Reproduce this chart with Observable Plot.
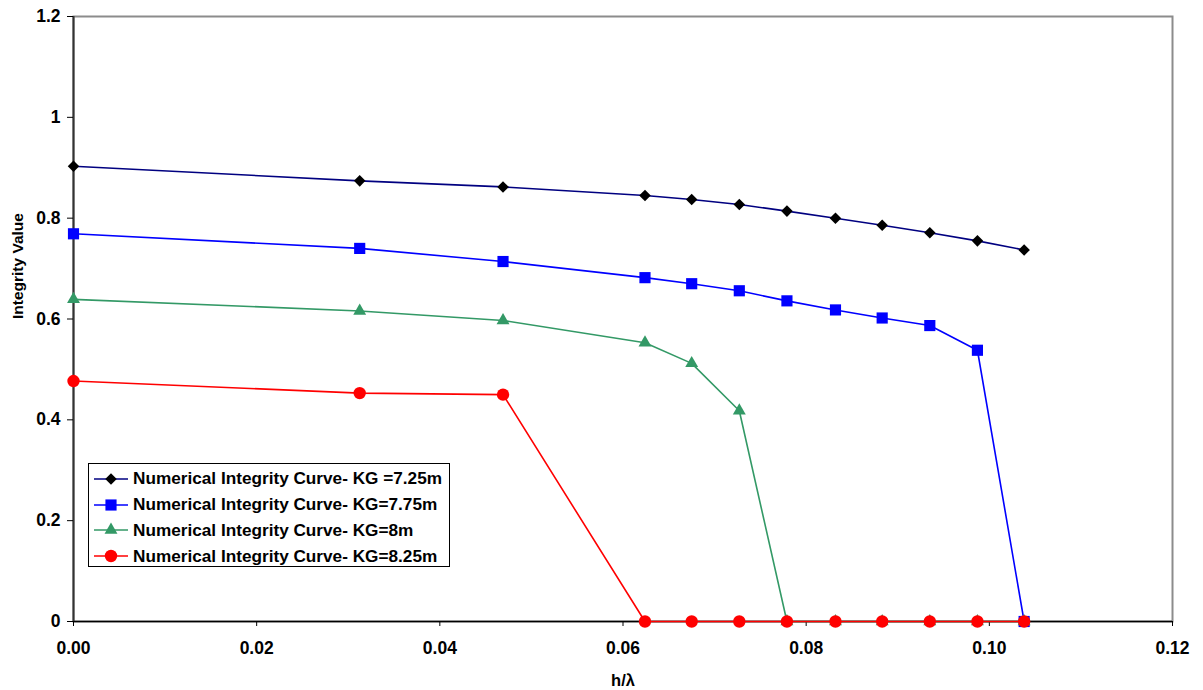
<!DOCTYPE html>
<html>
<head>
<meta charset="utf-8">
<script src="https://cdn.jsdelivr.net/npm/d3@7"></script>
<script src="https://cdn.jsdelivr.net/npm/@observablehq/plot@0.6"></script>
<style>
  html, body { margin: 0; padding: 0; background: #fff; }
  #wrap { position: relative; width: 1203px; height: 690px; font-family: "Liberation Sans", Arial, sans-serif; }
  #legend { position: absolute; left: 88px; top: 463px; width: 362px; height: 104px;
            border: 1px solid #000; background: #fff; box-sizing: border-box; padding-top: 2px; }
  .row { display: flex; align-items: center; height: 25.8px; }
  .row svg { margin-left: 5px; flex: none; }
  .row span { font-weight: bold; font-size: 17.2px; color: #000; margin-left: 5px; white-space: nowrap; }
</style>
</head>
<body>
<div id="wrap"><div id="chart"></div><div id="legend"></div></div>
<script>
// wave steepness h/λ
const steepness = [0, 0.03125, 0.0469, 0.0624, 0.0675, 0.0727, 0.0779, 0.0832, 0.0883, 0.0935, 0.0987, 0.1038];

// integrity values per KG
const kg725 = [0.903, 0.874, 0.862, 0.845, 0.837, 0.827, 0.814, 0.800, 0.786, 0.771, 0.755, 0.737];
const kg775 = [0.769, 0.740, 0.714, 0.682, 0.670, 0.656, 0.636, 0.618, 0.602, 0.587, 0.538, 0];
const kg800 = [0.639, 0.616, 0.597, 0.553, 0.512, 0.418, 0, 0, 0, 0, 0, 0];
const kg825 = [0.477, 0.453, 0.450, 0, 0, 0, 0, 0, 0, 0, 0, 0];

const seriesNames = [
  "Numerical Integrity Curve- KG =7.25m",
  "Numerical Integrity Curve- KG=7.75m",
  "Numerical Integrity Curve- KG=8m",
  "Numerical Integrity Curve- KG=8.25m"
];
const lineColors = ["#000080", "#0000ff", "#339966", "#ff0000"];
const markFills = ["#000000", "#0000ff", "#339966", "#ff0000"];
const symbols = ["diamond2", "square", "triangle", "circle"];
const radii = [5.2, 6.3, 4.8, 6.2];

const yTicks = [0, 0.2, 0.4, 0.6, 0.8, 1, 1.2];
const xTicks = [0, 0.02, 0.04, 0.06, 0.08, 0.10, 0.12];

const allSeries = [kg725, kg775, kg800, kg825].map((vals, i) =>
  steepness.map((x, j) => ({x, y: vals[j], s: i}))
);

const marks = [
  Plot.frame({stroke: "#8c8c8c", strokeWidth: 2}),
  Plot.ruleY([0], {stroke: "#000", strokeWidth: 1.5}),
  Plot.ruleX([0], {stroke: "#333", strokeWidth: 2}),
  Plot.axisX({
    ticks: xTicks, tickFormat: d3.format(".2f"), tickSize: 5, tickPadding: 15,
    fontSize: 17.5, fontWeight: "bold", label: null
  }),
  Plot.axisY({
    ticks: yTicks, tickFormat: d => String(d), tickSize: 6, tickPadding: 7,
    fontSize: 17.5, fontWeight: "bold", label: null
  }),
  Plot.text(["h/λ"], {frameAnchor: "bottom", dy: 64, lineAnchor: "bottom",
    fontSize: 16.5, fontWeight: "bold", fill: "#000"}),
  Plot.text(["Integrity Value"], {frameAnchor: "left", dx: -55, rotate: -90,
    fontSize: 15.5, fontWeight: "bold", fill: "#000"})
];
allSeries.forEach((data, i) => {
  marks.push(Plot.line(data, {x: "x", y: "y", stroke: lineColors[i], strokeWidth: 1.6}));
});
allSeries.forEach((data, i) => {
  marks.push(Plot.dot(data, {x: "x", y: "y", symbol: () => symbols[i], r: radii[i],
    fill: markFills[i], stroke: "none"}));
});

const chart = Plot.plot({
  width: 1203,
  height: 690,
  marginLeft: 73,
  marginRight: 31,
  marginTop: 16,
  marginBottom: 69,
  style: {fontFamily: "Liberation Sans, Arial, sans-serif", color: "#000", background: "#fff"},
  x: {domain: [0, 0.12], axis: null},
  y: {domain: [0, 1.2], axis: null},
  symbol: {type: "identity"},
  marks
});
document.getElementById("chart").appendChild(chart);

// legend rows: short line with the series marker, then its name
const legend = d3.select("#legend");
seriesNames.forEach((name, i) => {
  const row = legend.append("div").attr("class", "row");
  const svg = row.append("svg").attr("width", 34).attr("height", 16);
  svg.append("line").attr("x1", 0).attr("x2", 34).attr("y1", 8).attr("y2", 8)
    .attr("stroke", lineColors[i]).attr("stroke-width", 1.6);
  const sym = {diamond2: d3.symbolDiamond2, square: d3.symbolSquare,
               triangle: d3.symbolTriangle, circle: d3.symbolCircle}[symbols[i]];
  svg.append("path").attr("transform", "translate(17,8)")
    .attr("d", d3.symbol(sym, Math.PI * radii[i] * radii[i])())
    .attr("fill", markFills[i]);
  row.append("span").text(name);
});
</script>
</body>
</html>
